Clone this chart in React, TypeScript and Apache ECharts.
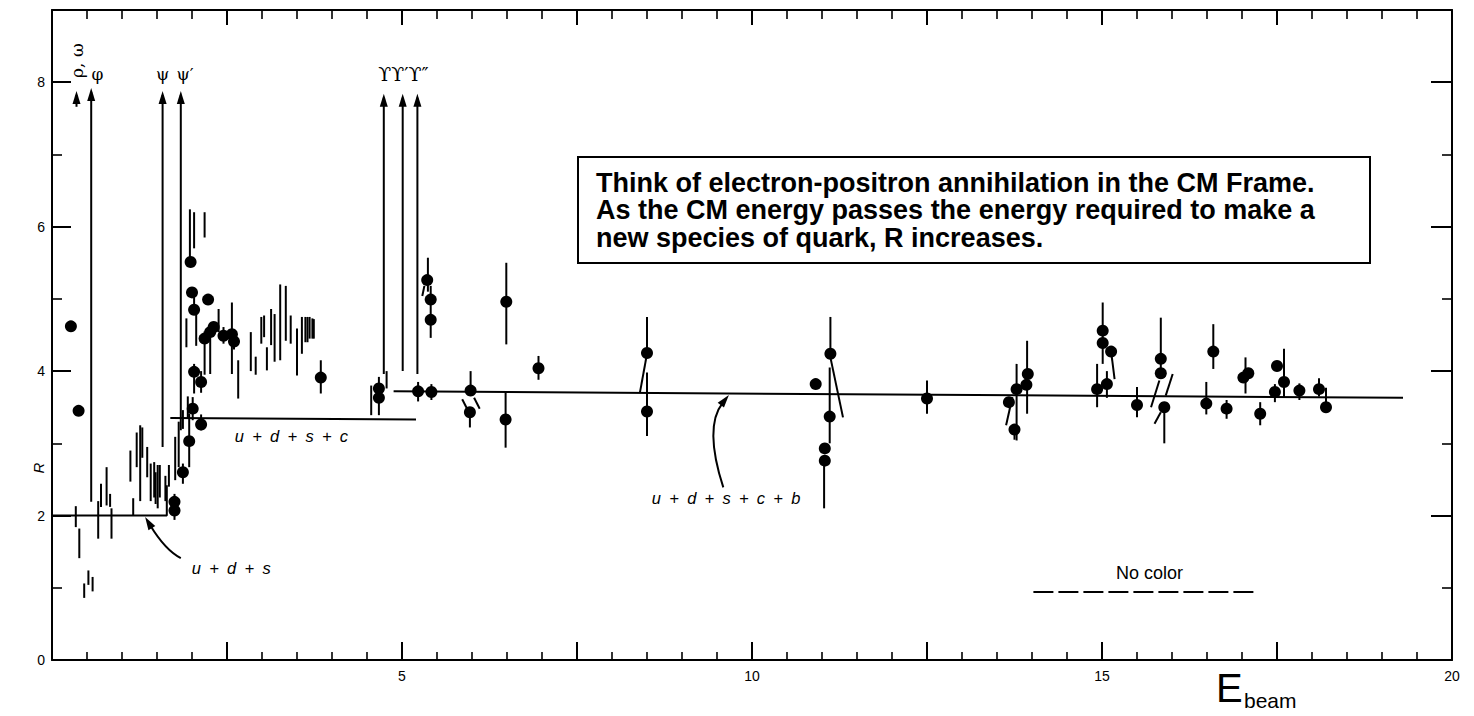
import React, { useEffect, useRef } from "react";
import * as echarts from "echarts";

// ---------------- data ----------------
const xTickLabels = [5, 10, 15, 20];
const yTickLabels = [0, 2, 4, 6, 8];

// filled data points [E_beam, R]
const measuredPoints: [number, number][] = [
  [0.27, 4.62], [0.38, 3.45],
  [1.75, 2.19], [1.75, 2.07], [1.87, 2.6], [1.96, 3.03], [2.01, 3.48], [2.03, 3.99],
  [2.13, 3.85], [2.13, 3.26], [1.98, 5.51], [2.0, 5.09], [2.03, 4.85], [2.23, 4.99],
  [2.18, 4.45], [2.26, 4.54], [2.31, 4.61], [2.45, 4.49], [2.57, 4.51], [2.6, 4.41],
  [3.84, 3.91], [4.67, 3.76], [4.67, 3.63],
  [5.23, 3.72], [5.42, 3.71], [5.36, 5.26], [5.41, 4.99], [5.41, 4.71],
  [5.98, 3.73], [5.97, 3.43], [6.49, 4.96], [6.48, 3.33], [6.95, 4.04],
  [8.5, 4.25], [8.5, 3.44],
  [10.91, 3.82], [11.12, 4.24], [11.11, 3.37], [11.04, 2.93], [11.04, 2.76],
  [12.5, 3.62], [13.67, 3.57], [13.75, 3.19], [13.78, 3.75], [13.92, 3.81], [13.94, 3.96],
  [14.93, 3.75], [15.01, 4.56], [15.01, 4.39], [15.13, 4.27], [15.07, 3.82], [15.5, 3.53],
  [15.84, 4.17], [15.84, 3.97], [15.89, 3.5],
  [16.49, 3.55], [16.59, 4.27], [16.78, 3.48], [17.02, 3.91], [17.09, 3.97], [17.26, 3.41],
  [17.47, 3.71], [17.5, 4.07], [17.6, 3.85], [17.82, 3.73], [18.1, 3.75], [18.2, 3.5],
];

// error bars belonging to the points [E_beam, low, high]
const pointErrorBars: [number, number, number][] = [
  [1.75, 1.94, 2.3], [1.87, 2.44, 2.72], [1.96, 2.67, 3.41], [2.01, 3.32, 3.64], [2.03, 3.69, 4.1],
  [2.13, 3.7, 4.0], [2.13, 3.18, 3.4], [2.03, 4.79, 5.07], [2.18, 3.95, 4.55], [2.26, 3.96, 4.6],
  [2.45, 4.38, 4.61], [2.57, 3.96, 4.95], [2.6, 4.3, 4.5],
  [3.84, 3.69, 4.15], [4.67, 3.39, 3.92], [5.23, 3.58, 3.85], [5.42, 3.6, 3.82],
  [5.37, 5.1, 5.57], [5.41, 4.46, 5.18], [5.98, 3.69, 4.0], [5.97, 3.22, 3.43],
  [6.49, 4.37, 5.5], [6.48, 2.94, 3.72], [6.95, 3.88, 4.21], [8.5, 4.25, 4.75], [8.5, 3.1, 3.98],
  [11.12, 4.24, 4.75], [11.11, 3.0, 4.05], [11.03, 2.1, 2.76], [12.5, 3.41, 3.87],
  [13.75, 3.05, 3.19], [13.78, 3.04, 4.1], [13.93, 3.41, 4.42], [14.93, 3.5, 4.1],
  [15.01, 4.1, 4.95], [15.07, 3.63, 4.0], [15.5, 3.36, 3.78], [15.84, 3.9, 4.74], [15.89, 3.0, 3.5],
  [16.49, 3.4, 3.85], [16.59, 4.03, 4.65], [16.78, 3.34, 3.6], [17.05, 3.69, 4.19],
  [17.26, 3.25, 3.57], [17.47, 3.57, 3.82], [17.6, 3.63, 4.31], [17.82, 3.6, 3.83],
  [18.1, 3.65, 3.9], [18.2, 3.5, 3.77],
];

// measurements drawn as bare vertical bars [E_beam, low, high]
const bareErrorBars: [number, number, number][] = [
  [0.34, 1.84, 2.13], [0.39, 1.41, 1.82], [0.46, 0.86, 1.06], [0.52, 1.04, 1.24], [0.58, 0.95, 1.15],
  [0.66, 1.68, 2.2], [0.7, 2.12, 2.44], [0.78, 2.14, 2.67], [0.83, 2.12, 2.3], [0.85, 1.68, 2.1],
  [1.12, 2.47, 2.9], [1.16, 2.0, 2.24], [1.21, 2.67, 3.15], [1.26, 2.2, 3.25], [1.29, 2.8, 3.22],
  [1.36, 2.53, 2.95], [1.41, 2.2, 2.72], [1.46, 2.25, 2.74], [1.48, 2.16, 2.6], [1.51, 2.1, 2.7],
  [1.54, 2.25, 2.7], [1.62, 2.2, 2.55], [1.67, 2.4, 2.7],
  [1.76, 2.49, 3.09], [1.81, 2.67, 3.3], [1.87, 3.2, 3.46], [1.92, 4.33, 4.73], [1.94, 3.35, 3.65],
  [1.97, 5.58, 6.24], [2.03, 5.7, 6.2], [2.18, 5.85, 6.2], [2.06, 4.35, 4.9], [2.38, 4.54, 4.86],
  [2.66, 3.62, 4.15], [2.84, 4.0, 4.54], [2.91, 3.95, 4.2], [2.99, 4.38, 4.75], [3.03, 4.47, 4.77],
  [3.07, 4.01, 4.33], [3.13, 4.36, 4.86], [3.18, 4.13, 4.79], [3.26, 4.15, 5.2], [3.34, 4.42, 5.18],
  [3.41, 4.38, 4.77], [3.5, 3.94, 4.59], [3.57, 4.24, 4.75], [3.62, 4.4, 4.75], [3.65, 4.4, 4.75],
  [3.68, 4.45, 4.75], [3.72, 4.45, 4.73], [3.74, 4.45, 4.72],
  [4.56, 3.39, 3.8], [4.78, 3.76, 4.0],
];

// slanted error bars [x1, y1, x2, y2]
const slantedErrorBars: [number, number, number, number][] = [
  [5.29, 5.04, 5.32, 5.18], [5.86, 3.61, 5.93, 3.48], [6.03, 3.63, 6.11, 3.48],
  [8.4, 3.71, 8.5, 4.24], [11.12, 4.19, 11.3, 3.36], [13.63, 3.25, 13.72, 3.64],
  [15.13, 4.27, 15.18, 3.89], [15.7, 3.5, 15.82, 3.87], [15.91, 3.66, 16.01, 3.96],
  [15.75, 3.27, 15.84, 3.43],
];

// resonance arrows (rho/omega, phi, psi, psi', Upsilon, Upsilon', Upsilon'')
const resonanceX = [0.35, 0.56, 1.58, 1.84, 4.74, 5.01, 5.22];
const resonanceLow = [7.66, 2.19, 2.95, 3.18, 3.96, 4.0, 3.96];
const resonanceHigh = [7.88, 7.92, 7.88, 7.88, 7.84, 7.84, 7.84];

// quark-sum expectation lines
const udsLine: [number, number][] = [[0, 2.0], [1.64, 2.0], [1.64, 2.42]];
const udscLine: [number, number][] = [[1.69, 3.35], [5.2, 3.33]];
const udscbLine: [number, number][] = [[4.88, 3.72], [19.3, 3.63]];
const noColorLine: [number, number][] = [[14.02, 0.94], [17.2, 0.94]];

// annotations
const annotationTexts = [
  "ρ, ω", "φ", "ψ", "ψ′", "ϒϒ′ϒ″",
  "u\u2002+\u2002d\u2002+\u2002s",
  "u\u2002+\u2002d\u2002+\u2002s\u2002+\u2002c",
  "u\u2002+\u2002d\u2002+\u2002s\u2002+\u2002c\u2002+\u2002b",
  "No color",
];
const annotationAt: [number, number][] = [
  [0.35, 8.3], [0.65, 8.12], [1.58, 8.12], [1.9, 8.12], [5.02, 8.12],
  [2.56, 1.27], [3.42, 3.1], [9.63, 2.24], [15.68, 1.2],
];
// curved arrows [startX, startY, ctrlX, ctrlY, endX, endY]
const curvedArrows: number[][] = [
  [1.84, 1.41, 1.62, 1.52, 1.33, 1.98],
  [9.59, 2.39, 9.31, 3.23, 9.67, 3.67],
];

const boxLines = [
  "Think of electron-positron annihilation in the CM Frame.",
  "As the CM energy passes the energy required to make a",
  "new species of quark, R increases.",
];

// ---------------- styles ----------------
const INK = "#000";
const SANS = '"Liberation Sans", Arial, sans-serif';
const SERIF = '"DejaVu Serif", serif';
const annotationFonts = [
  `17px ${SERIF}`, `17px ${SERIF}`, `17px ${SERIF}`, `17px ${SERIF}`, `19px ${SERIF}`,
  `italic 16.5px ${SANS}`, `italic 16.5px ${SANS}`, `italic 16.5px ${SANS}`, `18px ${SANS}`,
];
const annotationRotation = [Math.PI / 2, 0, 0, 0, 0, 0, 0, 0, 0];

function xAxisDef(position: "top" | "bottom", interval: number, tickLen: number, main: boolean) {
  return {
    type: "value",
    min: 0,
    max: 20,
    interval,
    position,
    axisLine: { show: main, onZero: false, lineStyle: { color: INK, width: 2 } },
    axisTick: { show: true, inside: true, length: tickLen, lineStyle: { color: INK, width: main ? 2 : 1.6 } },
    axisLabel: {
      show: main && position === "bottom",
      color: INK,
      fontSize: 14,
      fontFamily: SANS,
      margin: 9,
      formatter: (v: number) => (xTickLabels.includes(v) ? String(v) : ""),
    },
    splitLine: { show: false },
  };
}

function yAxisDef(position: "left" | "right", interval: number, tickLen: number, main: boolean) {
  return {
    type: "value",
    min: 0,
    max: 9,
    interval,
    position,
    axisLine: { show: main, onZero: false, lineStyle: { color: INK, width: 2 } },
    axisTick: { show: true, inside: true, length: tickLen, lineStyle: { color: INK, width: main ? 2 : 1.6 } },
    axisLabel: {
      show: main && position === "left",
      color: INK,
      fontSize: 14,
      fontFamily: SANS,
      margin: 7,
      formatter: (v: number) => (yTickLabels.includes(v) ? String(v) : ""),
    },
    splitLine: { show: false },
  };
}

function buildOption() {
  const lineSeries = (data: [number, number][], dashed = false) => ({
    type: "line",
    data,
    symbol: "none",
    silent: true,
    lineStyle: { color: INK, width: 2, type: dashed ? [20, 5] : "solid" },
    z: 2,
  });

  return {
    animation: false,
    backgroundColor: "#fff",
    grid: { left: 52, right: 22, top: 10, bottom: 56, containLabel: false },
    xAxis: [
      xAxisDef("bottom", 2.5, 18, true),
      xAxisDef("bottom", 0.5, 8, false),
      xAxisDef("top", 2.5, 15, true),
      xAxisDef("top", 0.5, 9, false),
    ],
    yAxis: [
      yAxisDef("left", 2, 19, true),
      yAxisDef("left", 1, 10, false),
      yAxisDef("right", 2, 21, true),
      yAxisDef("right", 1, 10, false),
    ],
    graphic: [
      {
        type: "rect",
        shape: { x: 578, y: 157, width: 792, height: 106 },
        style: { fill: "#fff", stroke: INK, lineWidth: 2 },
        z: 100,
      },
      {
        type: "text",
        x: 596,
        y: 169,
        style: { text: boxLines.join("\n"), font: `bold 27px ${SANS}`, lineHeight: 27.5, fill: INK },
        z: 101,
      },
      {
        type: "text",
        x: 38,
        y: 468,
        rotation: Math.PI / 2,
        style: { text: "R", font: `italic 15px ${SANS}`, fill: INK, align: "center", verticalAlign: "middle" },
      },
      {
        type: "text",
        x: 1216,
        y: 668,
        style: { text: "E", font: `40px ${SANS}`, fill: INK },
      },
      {
        type: "text",
        x: 1244,
        y: 690,
        style: { text: "beam", font: `21px ${SANS}`, fill: INK },
      },
    ],
    series: [
      lineSeries(udsLine),
      lineSeries(udscLine),
      lineSeries(udscbLine),
      lineSeries(noColorLine, true),
      {
        type: "custom",
        name: "error bars",
        silent: true,
        data: [...pointErrorBars, ...bareErrorBars],
        encode: { x: 0, y: [1, 2] },
        z: 3,
        renderItem: (_p: any, api: any) => {
          const x = api.value(0);
          const a = api.coord([x, api.value(1)]);
          const b = api.coord([x, api.value(2)]);
          return {
            type: "line",
            shape: { x1: a[0], y1: a[1], x2: b[0], y2: b[1] },
            style: { stroke: INK, lineWidth: 2 },
          };
        },
      },
      {
        type: "custom",
        name: "slanted bars",
        silent: true,
        data: slantedErrorBars,
        encode: { x: [0, 2], y: [1, 3] },
        z: 3,
        renderItem: (_p: any, api: any) => {
          const a = api.coord([api.value(0), api.value(1)]);
          const b = api.coord([api.value(2), api.value(3)]);
          return {
            type: "line",
            shape: { x1: a[0], y1: a[1], x2: b[0], y2: b[1] },
            style: { stroke: INK, lineWidth: 2 },
          };
        },
      },
      {
        type: "custom",
        name: "resonances",
        silent: true,
        data: resonanceX.map((x, i) => [x, resonanceLow[i], resonanceHigh[i]]),
        encode: { x: 0, y: [1, 2] },
        z: 3,
        renderItem: (_p: any, api: any) => {
          const x = api.value(0);
          const a = api.coord([x, api.value(1)]);
          const b = api.coord([x, api.value(2)]);
          return {
            type: "group",
            children: [
              { type: "line", shape: { x1: a[0], y1: a[1], x2: b[0], y2: b[1] + 4 }, style: { stroke: INK, lineWidth: 2 } },
              {
                type: "polygon",
                shape: { points: [[b[0], b[1]], [b[0] - 4, b[1] + 13], [b[0] + 4, b[1] + 13]] },
                style: { fill: INK },
              },
            ],
          };
        },
      },
      {
        type: "custom",
        name: "curved arrows",
        silent: true,
        data: curvedArrows,
        encode: { x: [0, 2, 4], y: [1, 3, 5] },
        z: 3,
        renderItem: (_p: any, api: any) => {
          const s = api.coord([api.value(0), api.value(1)]);
          const c = api.coord([api.value(2), api.value(3)]);
          const e = api.coord([api.value(4), api.value(5)]);
          let dx = e[0] - c[0];
          let dy = e[1] - c[1];
          const len = Math.hypot(dx, dy) || 1;
          dx /= len;
          dy /= len;
          const bx = e[0] - dx * 13;
          const by = e[1] - dy * 13;
          const nx = -dy * 4;
          const ny = dx * 4;
          return {
            type: "group",
            children: [
              {
                type: "bezierCurve",
                shape: { x1: s[0], y1: s[1], x2: bx + dx * 3, y2: by + dy * 3, cpx1: c[0], cpy1: c[1] },
                style: { stroke: INK, lineWidth: 2, fill: "none" },
              },
              {
                type: "polygon",
                shape: { points: [[e[0], e[1]], [bx + nx, by + ny], [bx - nx, by - ny]] },
                style: { fill: INK },
              },
            ],
          };
        },
      },
      {
        type: "scatter",
        name: "R",
        data: measuredPoints,
        symbol: "circle",
        symbolSize: 12,
        itemStyle: { color: INK, opacity: 1 },
        silent: true,
        z: 4,
      },
      {
        type: "custom",
        name: "labels",
        silent: true,
        data: annotationAt,
        encode: { x: 0, y: 1 },
        z: 5,
        renderItem: (p: any, api: any) => {
          const i = p.dataIndex;
          const pt = api.coord([api.value(0), api.value(1)]);
          return {
            type: "text",
            x: pt[0],
            y: pt[1],
            rotation: annotationRotation[i],
            style: {
              text: annotationTexts[i],
              font: annotationFonts[i],
              fill: INK,
              align: "center",
              verticalAlign: "middle",
            },
          };
        },
      },
    ],
  };
}

export default function App() {
  const ref = useRef<HTMLDivElement>(null);
  useEffect(() => {
    if (!ref.current) return;
    const chart = echarts.init(ref.current, null, { renderer: "svg" });
    chart.setOption(buildOption() as any);
    return () => chart.dispose();
  }, []);
  return (
    <div
      ref={ref}
      style={{ position: "fixed", left: 0, top: 0, width: 1474, height: 716, background: "#fff" }}
    />
  );
}
